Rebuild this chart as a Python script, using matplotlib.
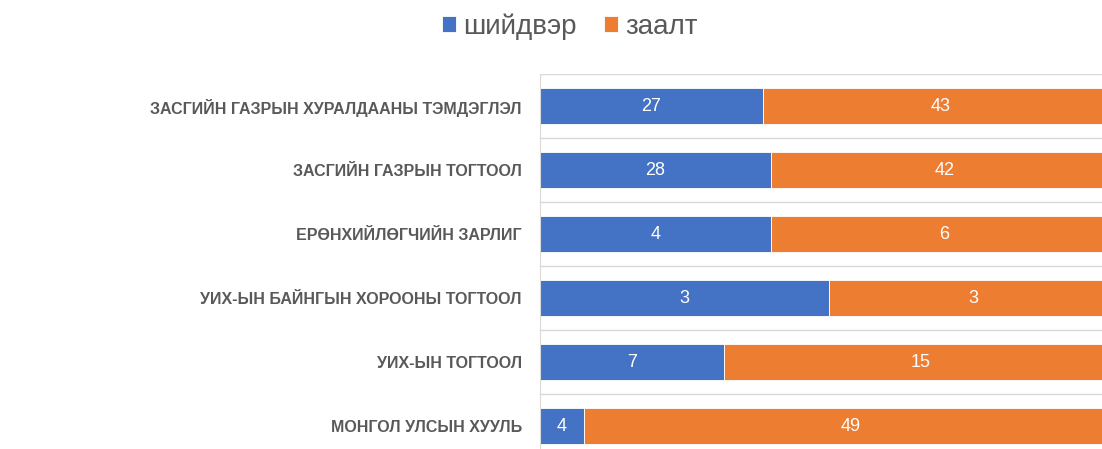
import matplotlib
matplotlib.use("Agg")
import matplotlib.pyplot as plt
import numpy as np

categories = [
    "ЗАСГИЙН ГАЗРЫН ХУРАЛДААНЫ ТЭМДЭГЛЭЛ",
    "ЗАСГИЙН ГАЗРЫН ТОГТООЛ",
    "ЕРӨНХИЙЛӨГЧИЙН ЗАРЛИГ",
    "УИХ-ЫН БАЙНГЫН ХОРООНЫ ТОГТООЛ",
    "УИХ-ЫН ТОГТООЛ",
    "МОНГОЛ УЛСЫН ХУУЛЬ",
]
series_names = ["шийдвэр", "заалт"]
shiidver = [27, 28, 4, 3, 7, 4]
zaalt = [43, 42, 6, 3, 15, 49]

plt.rcParams['font.family'] = ['Liberation Sans', 'DejaVu Sans']

fig = plt.figure(figsize=(11.02, 4.49), dpi=100)
ax = fig.add_axes([540/1102, 1 - 458/449, 578/1102, 384/449])

a = np.array(shiidver, dtype=float)
b = np.array(zaalt, dtype=float)
tot = a + b
pa = a / tot
pb = b / tot
y = np.arange(len(categories))

blue = "#4472C4"
orange = "#ED7D31"
bars_a = ax.barh(y, pa, height=0.5625, color=blue, edgecolor="white", linewidth=0.6, label=series_names[0])
bars_b = ax.barh(y, pb, left=pa, height=0.5625, color=orange, edgecolor="white", linewidth=0.6, label=series_names[1])

for i in range(len(categories)):
    ax.text(pa[i] / 2, y[i], str(shiidver[i]), ha="center", va="center", color="white", fontsize=13)
    ax.text(pa[i] + pb[i] / 2, y[i], str(zaalt[i]), ha="center", va="center", color="white", fontsize=13)

ax.set_xlim(0, 1)
ax.set_ylim(len(categories) - 0.5, -0.5)
ax.set_yticks(y)
ax.set_yticklabels(categories, fontsize=11.5, fontweight="bold", color="#595959")
ax.set_yticks(np.arange(-0.5, len(categories), 1), minor=True)
ax.tick_params(axis="y", which="both", length=0, pad=13)
ax.set_xticks([])
ax.grid(axis="y", which="minor", color="#D9D9D9", linewidth=1)
ax.set_axisbelow(True)
for s in ["top", "right", "bottom"]:
    ax.spines[s].set_visible(False)
ax.spines["left"].set_color("#D9D9D9")

fig.legend(handles=[bars_a, bars_b], labels=series_names, loc="center", bbox_to_anchor=(0.517, 1 - 27/449),
           ncol=2, frameon=False, fontsize=20, labelcolor="#595959", handlelength=0.5, handleheight=0.5,
           handletextpad=0.25, columnspacing=1.0)

fig.savefig("out.png", dpi=100)
